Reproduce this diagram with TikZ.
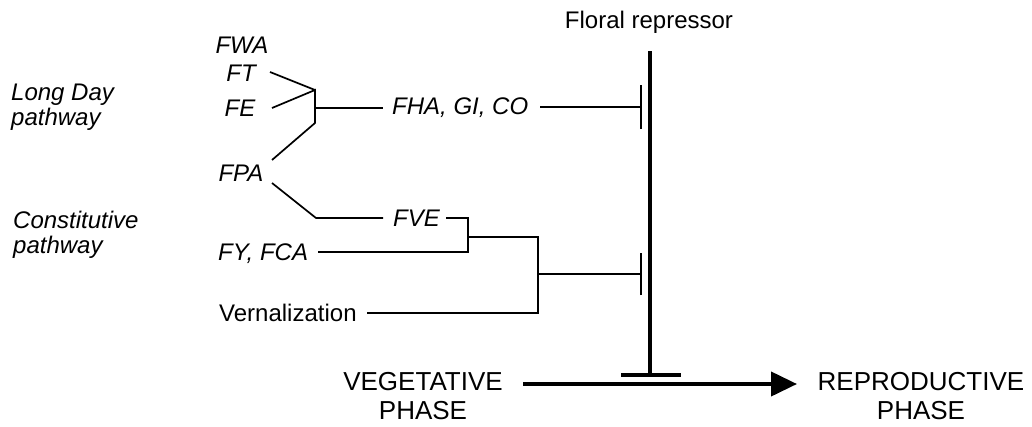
\documentclass[tikz,border=0pt]{standalone}
\usepackage{fontspec}
\setmainfont{Liberation Sans}
\usetikzlibrary{arrows.meta}
\tikzset{
  lbl/.style={inner sep=0pt, font=\fontsize{24}{25}\selectfont\itshape},
  plain/.style={inner sep=0pt, font=\fontsize{24}{25}\selectfont},
  big/.style={inner sep=0pt, align=center, font=\fontsize{26}{29}\selectfont},
  thin/.style={line width=1.7pt},
  thick/.style={line width=4pt},
}
\begin{document}
\begin{tikzpicture}[x=1pt,y=-1pt]
\useasboundingbox (0,0) rectangle (1032,426);
% pathway labels
\node[lbl, anchor=west, align=left] (ld) at (11,107) {Long Day\\pathway};
\node[lbl, anchor=west, align=left] (cp) at (13,235) {Constitutive\\pathway};
% gene labels
\node[lbl] (fwa) at (242,45) {FWA};
\node[lbl] (ft) at (241,73) {FT};
\node[lbl] (fe) at (240,108) {FE};
\node[lbl] (fpa) at (241,173) {FPA};
\node[lbl, anchor=west] (fha) at (392,108) {FHA, GI, CO};
\node[lbl, anchor=west] (fve) at (393,218) {FVE};
\node[lbl, anchor=base west] (fy) at (218,260) {FY, FCA};
\node[plain, anchor=base west] (vern) at (219,321) {Vernalization};
\node[plain, anchor=base] (flr) at (649,28) {Floral repressor};
\node[big, anchor=base] (veg) at (423,419) {VEGETATIVE\\PHASE};
\node[big, anchor=base] (rep) at (921,419) {REPRODUCTIVE\\PHASE};
% line end coordinates
\coordinate (ftE) at (270,72);
\coordinate (feE) at (272,108);
\coordinate (fpaU) at (272,160);
\coordinate (fpaD) at (272,183);
\coordinate (ja) at (315,90);
\coordinate (jm) at (315,108);
\coordinate (jb) at (315,123);
\coordinate (fhaW) at (383,108);
\coordinate (fhaE) at (540,107);
\coordinate (fpad) at (316,218);
\coordinate (fveW) at (383,218);
\coordinate (fveE) at (446,218);
\coordinate (fvee) at (468,218);
\coordinate (fvej) at (468,237);
\coordinate (fyj) at (468,252);
\coordinate (fyE) at (318,252);
\coordinate (vj) at (538,237);
\coordinate (vm) at (538,274);
\coordinate (vb) at (538,313);
\coordinate (vernE) at (367,313);
\coordinate (bar1) at (641,107);
\coordinate (bar2) at (641,274);
\coordinate (rtop) at (650,51);
\coordinate (rbot) at (650,375);
% long day branch
\draw[thin] (ftE) -- (ja);
\draw[thin] (feE) -- (ja) -- (jb) -- (fpaU);
\draw[thin] (jm) -- (fhaW);
\draw[thin] (fhaE) -- (bar1);
\draw[thin] ([yshift=-22pt]bar1) -- ([yshift=22pt]bar1);
% constitutive branch
\draw[thin] (fpaD) -- (fpad) -- (fveW);
\draw[thin] (fveE) -- (fvee) -- (fyj) -- (fyE);
\draw[thin] (fvej) -- (vj) -- (vb) -- (vernE);
\draw[thin] (vm) -- (bar2);
\draw[thin] ([yshift=-21pt]bar2) -- ([yshift=21pt]bar2);
% floral repressor
\draw[thick] (rtop) -- (rbot);
\draw[thick] ([xshift=-29pt]rbot) -- ([xshift=31pt]rbot);
% main arrow
\coordinate (as) at (523,384);
\coordinate (ae) at (797,384);
\draw[thick, -{Triangle[length=26pt,width=24pt]}] (as) -- (ae);
\end{tikzpicture}
\end{document}
